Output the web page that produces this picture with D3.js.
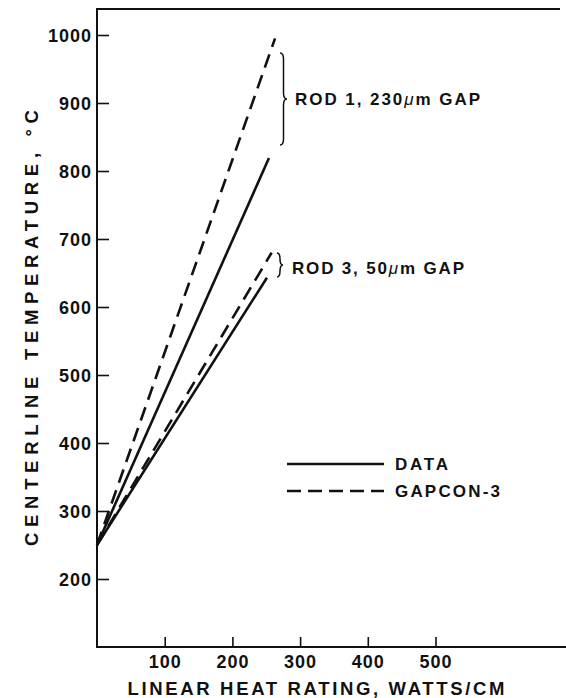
<!DOCTYPE html>
<html>
<head>
<meta charset="utf-8">
<script src="https://cdn.jsdelivr.net/npm/d3@7"></script>
<style>
  html, body { margin: 0; padding: 0; background: #fff; }
  svg { display: block; }
  text { font-family: "Liberation Sans", Arial, Helvetica, sans-serif; font-weight: bold; fill: #111; }
</style>
</head>
<body>
<svg id="chart" width="566" height="698"></svg>
<script>
// Centerline temperature vs. linear heat rating: measured data and GAPCON-3 predictions
const xTicks = [100, 200, 300, 400, 500];
const yTicks = [200, 300, 400, 500, 600, 700, 800, 900, 1000];

// [linear heat rating (W/cm), centerline temperature (°C)]
const rod1Data   = [[0, 250], [254, 819]];
const rod1Gapcon = [[0, 250], [263, 995]];
const rod3Data   = [[0, 250], [251, 643]];
const rod3Gapcon = [[0, 250], [258, 680]];

const rodLabels = ["ROD 1, 230", "ROD 3, 50"];
const legendLabels = ["DATA", "GAPCON-3"];

const svg = d3.select("#chart");
const ink = "#111";

const x = d3.scaleLinear().domain([0, 100]).range([97, 164.7]);
const y = d3.scaleLinear().domain([100, 1000]).range([647, 35]);

// frame: left axis line, top border and bottom axis line
svg.append("line").attr("x1", 97).attr("x2", 97).attr("y1", 9).attr("y2", 648)
  .attr("stroke", ink).attr("stroke-width", 2);
svg.append("line").attr("x1", 96).attr("x2", 560).attr("y1", 9).attr("y2", 9)
  .attr("stroke", ink).attr("stroke-width", 2);
svg.append("line").attr("x1", 96).attr("x2", 566).attr("y1", 647).attr("y2", 647)
  .attr("stroke", ink).attr("stroke-width", 2);

// y axis with inward ticks
const yAxis = svg.append("g").attr("transform", "translate(97,0)")
  .call(d3.axisLeft(y).tickValues(yTicks).tickSize(-12).tickPadding(5).tickFormat(d3.format("d")));
yAxis.select(".domain").remove();
yAxis.selectAll(".tick line").attr("stroke", ink).attr("stroke-width", 1.6);
yAxis.selectAll(".tick text").attr("font-size", 18).attr("letter-spacing", 1)
  .attr("fill", ink).attr("dy", "0.36em");

// x axis with inward ticks
const xAxis = svg.append("g").attr("transform", "translate(0,647)")
  .call(d3.axisBottom(x).tickValues(xTicks).tickSize(-10).tickPadding(8).tickFormat(d3.format("d")));
xAxis.select(".domain").remove();
xAxis.selectAll(".tick line").attr("stroke", ink).attr("stroke-width", 1.6);
xAxis.selectAll(".tick text").attr("font-size", 18).attr("letter-spacing", 1).attr("fill", ink);

// axis titles
svg.append("text").attr("x", 316).attr("y", 695).attr("text-anchor", "middle")
  .attr("font-size", 18.5).attr("textLength", 377).attr("lengthAdjust", "spacing")
  .text("LINEAR HEAT RATING, WATTS/CM");
svg.append("text").attr("transform", "translate(38,328) rotate(-90)").attr("text-anchor", "middle")
  .attr("font-size", 18.5).attr("textLength", 436).attr("lengthAdjust", "spacing")
  .text("CENTERLINE TEMPERATURE, °C");

// series lines
const line = d3.line().x(d => x(d[0])).y(d => y(d[1]));
const series = [
  { pts: rod1Data, dash: null },
  { pts: rod3Data, dash: null },
  { pts: rod1Gapcon, dash: "14,8" },
  { pts: rod3Gapcon, dash: "14,8" }
];
svg.selectAll("path.series").data(series).join("path")
  .attr("class", "series")
  .attr("d", d => line(d.pts))
  .attr("fill", "none").attr("stroke", ink).attr("stroke-width", 2.6)
  .attr("stroke-dasharray", d => d.dash);

// curly braces grouping each rod's pair of curves
function brace(x0, y0, y1, w) {
  const ym = (y0 + y1) / 2, q = Math.min(6, (y1 - y0) / 4), xm = x0 + w / 2;
  return `M${x0},${y0} Q${xm},${y0} ${xm},${y0 + q} L${xm},${ym - q} Q${xm},${ym} ${x0 + w},${ym}` +
         ` Q${xm},${ym} ${xm},${ym + q} L${xm},${y1 - q} Q${xm},${y1} ${x0},${y1}`;
}
svg.append("path").attr("d", brace(280, 53, 145, 7))
  .attr("fill", "none").attr("stroke", ink).attr("stroke-width", 1.5);
svg.append("path").attr("d", brace(277, 253, 277, 6))
  .attr("fill", "none").attr("stroke", ink).attr("stroke-width", 1.5);

function rodLabel(xp, yp, pre, len) {
  const t = svg.append("text").attr("x", xp).attr("y", yp).attr("font-size", 17)
    .attr("textLength", len).attr("lengthAdjust", "spacing");
  t.append("tspan").text(pre);
  t.append("tspan").attr("font-style", "italic").attr("font-weight", "normal").text("μ");
  t.append("tspan").text("m GAP");
}
rodLabel(295, 105, rodLabels[0], 185);
rodLabel(292, 274, rodLabels[1], 172);

// legend
const legY = [464, 491];
svg.append("line").attr("x1", 287).attr("x2", 384).attr("y1", legY[0]).attr("y2", legY[0])
  .attr("stroke", ink).attr("stroke-width", 2.6);
svg.append("line").attr("x1", 287).attr("x2", 384).attr("y1", legY[1]).attr("y2", legY[1])
  .attr("stroke", ink).attr("stroke-width", 2.6).attr("stroke-dasharray", "14,7");
svg.append("text").attr("x", 395).attr("y", legY[0] + 6).attr("font-size", 17)
  .attr("textLength", 53).attr("lengthAdjust", "spacing").text(legendLabels[0]);
svg.append("text").attr("x", 395).attr("y", legY[1] + 6).attr("font-size", 17)
  .attr("textLength", 105).attr("lengthAdjust", "spacing").text(legendLabels[1]);
</script>
</body>
</html>
